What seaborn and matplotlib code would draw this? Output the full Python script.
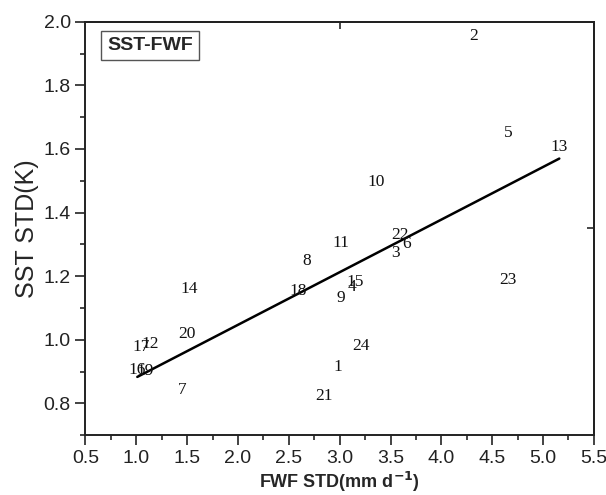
import numpy as np
import pandas as pd
import matplotlib
matplotlib.use("Agg")
import matplotlib.pyplot as plt
import seaborn as sns

# Model index, FWF standard deviation (mm/d) and SST standard deviation (K)
model_ids = [str(i) for i in range(1, 25)]
fwf_std = [2.98, 4.32, 3.545, 3.12, 4.66, 3.66, 1.453, 2.68, 3.015, 3.355, 3.01, 1.14,
           5.16, 1.52, 3.15, 1.01, 1.046, 2.595, 1.086, 1.496, 2.85, 3.595, 4.65, 3.21]
sst_std = [0.914, 1.956, 1.274, 1.166, 1.650, 1.300, 0.842, 1.248, 1.132, 1.495, 1.304, 0.987,
           1.606, 1.158, 1.180, 0.905, 0.977, 1.152, 0.903, 1.017, 0.822, 1.329, 1.188, 0.980]

x_ticks = [0.5, 1.0, 1.5, 2.0, 2.5, 3.0, 3.5, 4.0, 4.5, 5.0, 5.5]
y_ticks = [0.8, 1.0, 1.2, 1.4, 1.6, 1.8, 2.0]

df = pd.DataFrame({"model": model_ids, "fwf": fwf_std, "sst": sst_std})

sns.set_theme(style="ticks")
plt.rcParams["font.family"] = ["Liberation Sans", "DejaVu Sans"]

fig = plt.figure(figsize=(6.06, 4.95), dpi=100)
ax = fig.add_axes([0.141, 0.121, 0.839, 0.835])

# Least-squares fit over the range of the data
sns.regplot(data=df, x="fwf", y="sst", scatter=False, ci=None, truncate=True,
            color="black", line_kws={"linewidth": 1.8}, ax=ax)

# Each model is drawn as its index number
for _, row in df.iterrows():
    ax.text(row["fwf"], row["sst"], row["model"], ha="center", va="center",
            fontsize=12.5, family=["Liberation Serif", "DejaVu Serif"], color="#111111")

ax.set_xlim(0.5, 5.5)
ax.set_ylim(0.7, 2.0)
ax.set_xticks(x_ticks)
ax.set_xticklabels([f"{v:.1f}" for v in x_ticks])
ax.set_yticks(y_ticks)
ax.set_yticklabels([f"{v:.1f}" for v in y_ticks])
ax.set_xticks(np.arange(0.75, 5.5, 0.5), minor=True)
ax.set_yticks(np.arange(0.7, 2.0, 0.2), minor=True)

ax.tick_params(axis="both", which="major", direction="out", length=7, width=1.2,
               labelsize=14, colors="#222222")
ax.tick_params(axis="both", which="minor", direction="out", length=3.5, width=1.2)

for sp in ax.spines.values():
    sp.set_visible(True)
    sp.set_linewidth(1.4)
    sp.set_color("#222222")

# Single inward ticks at the middle of the top and right axes
top = ax.secondary_xaxis("top")
top.set_xticks([3.0])
top.set_xticklabels([])
top.tick_params(direction="in", length=5, width=1.2)
right = ax.secondary_yaxis("right")
right.set_yticks([1.35])
right.set_yticklabels([])
right.tick_params(direction="in", length=5, width=1.2)

ax.set_xlabel("FWF STD(mm d$^{\\mathbf{-1}}$)", fontsize=13, fontweight="bold", labelpad=2)
ax.set_ylabel("SST STD(K)", fontsize=18, labelpad=3)

ax.text(0.043, 0.963, "SST-FWF", transform=ax.transAxes, ha="left", va="top",
        fontsize=14, fontweight="bold",
        bbox=dict(boxstyle="square,pad=0.3", facecolor="white", edgecolor="#555555", linewidth=1.0))

fig.savefig("out.png", dpi=100)
